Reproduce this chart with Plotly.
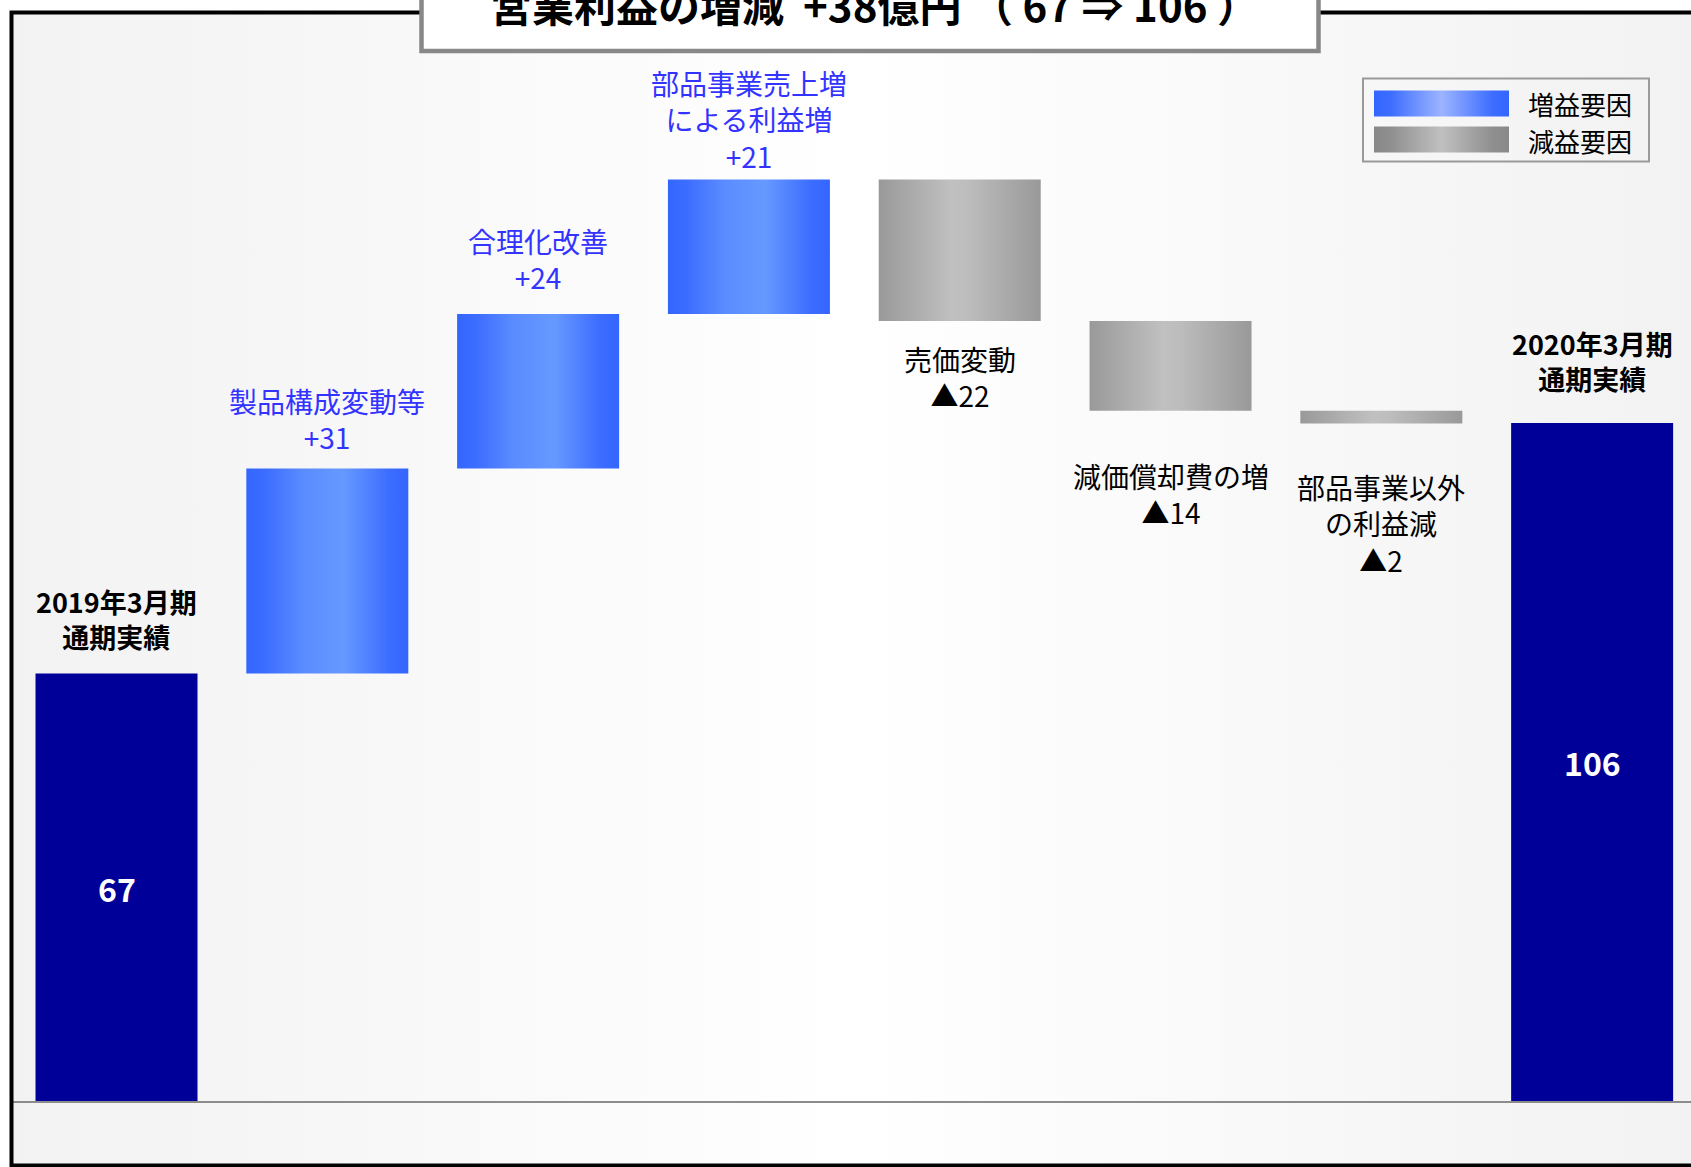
import plotly.graph_objects as go

# ---------------- data ----------------
start_label = ["2019年3月期", "通期実績"]
end_label = ["2020年3月期", "通期実績"]
start_value = 66.9
end_value = 106.0
start_text = "67"
end_text = "106"

step_names = ["製品構成変動等", "合理化改善", "部品事業売上増<br>による利益増",
              "売価変動", "減価償却費の増", "部品事業以外<br>の利益減"]
step_values = [32.0, 24.1, 21.0, -22.1, -14.0, -2.0]
step_texts = ["+31", "+24", "+21", "▲22", "▲14", "▲2"]

title_text = "営業利益の増減  +38億円 （ 67 ⇒ 106 ）"
legend_items = ["増益要因", "減益要因"]

# ---------------- styling ----------------
W, H = 1691, 1167
FONT = "Noto Sans CJK JP"
BAR_W = 0.7685
X0, X1 = -0.5527, 7.469
Y0, Y1 = -10.15, 172.03
BLUE_SCALE = [[0, "#3366ff"], [0.12, "#3d6dff"], [0.35, "#5a8cff"],
              [0.6, "#6699ff"], [0.88, "#3d6dff"], [1, "#3366ff"]]
GRAY_SCALE = [[0, "#999999"], [0.45, "#c0c0c0"], [0.55, "#bdbdbd"], [1, "#999999"]]
LEG_BLUE = [[0, "#3366ff"], [0.12, "#3d6dff"], [0.5, "#9cb4ff"], [0.88, "#3d6dff"], [1, "#3366ff"]]
LEG_GRAY = [[0, "#888888"], [0.12, "#8f8f8f"], [0.5, "#c0c0c0"], [0.88, "#8f8f8f"], [1, "#888888"]]
BG_SCALE = [[0, "#f2f2f2"], [0.5, "#ffffff"], [1, "#f2f2f2"]]
NAVY = "#000099"
LABEL_BLUE = "#3333ff"
# label centre offsets (px) from bar edge
label_shift = [54.6, 49.3, 55.5, 60.2, -55.4, -83.5, -99.7, 61.7]


def px2x(px):
    return X0 + px / W * (X1 - X0)


def py2y(py):
    return Y1 - py / H * (Y1 - Y0)


def rect_trace(xa, xb, ya, yb, scale=None, color=None):
    kw = dict(x=[xa, xb, xb, xa, xa], y=[ya, ya, yb, yb, ya],
              mode="lines", line=dict(width=0), fill="toself",
              hoverinfo="skip", showlegend=False)
    if scale is not None:
        kw["fillgradient"] = dict(type="horizontal", colorscale=scale)
    else:
        kw["fillcolor"] = color
    return go.Scatter(**kw)


fig = go.Figure()

# background gradient inside frame
fig.add_trace(rect_trace(px2x(13), px2x(W), py2y(14), py2y(1165), BG_SCALE))

# total bars
for xi, v in [(0, start_value), (7, end_value)]:
    fig.add_trace(rect_trace(xi - BAR_W / 2, xi + BAR_W / 2, 0, v, color=NAVY))

# floating step bars
level = start_value
edges = []
for i, v in enumerate(step_values):
    lo, hi = sorted([level, level + v])
    xi = i + 1
    fig.add_trace(rect_trace(xi - BAR_W / 2, xi + BAR_W / 2, lo, hi,
                             BLUE_SCALE if v > 0 else GRAY_SCALE))
    edges.append((xi, hi if v > 0 else lo, v > 0))
    level += v

# legend swatches
fig.add_trace(rect_trace(px2x(1374), px2x(1509), py2y(90.5), py2y(116.5), LEG_BLUE))
fig.add_trace(rect_trace(px2x(1374), px2x(1509), py2y(126.5), py2y(152.5), LEG_GRAY))

ann = []
# total labels
ann.append(dict(x=0, y=start_value, text="<br>".join(start_label), showarrow=False,
                yanchor="middle", yshift=label_shift[0],
                font=dict(family=FONT, size=27, color="black", weight="bold")))
ann.append(dict(x=7, y=end_value, text="<br>".join(end_label), showarrow=False,
                yanchor="middle", yshift=label_shift[7],
                font=dict(family=FONT, size=27, color="black", weight="bold")))
ann.append(dict(x=0, y=start_value / 2, text=start_text, showarrow=False,
                font=dict(family=FONT, size=32, color="white", weight="bold")))
ann.append(dict(x=7, y=end_value / 2, text=end_text, showarrow=False,
                font=dict(family=FONT, size=32, color="white", weight="bold")))
for k, (xi, ye, pos) in enumerate(edges):
    ann.append(dict(x=xi, y=ye, text=step_names[k] + "<br>" + step_texts[k],
                    showarrow=False, yanchor="middle", yshift=label_shift[k + 1],
                    font=dict(family=FONT, size=28,
                              color=LABEL_BLUE if pos else "black")))
# legend texts
for j, t in enumerate(legend_items):
    ann.append(dict(xref="paper", yref="paper", x=1526 / W, y=1 - (103.5 + 36.5 * j) / H,
                    text=t, showarrow=False, xanchor="left", yanchor="middle",
                    font=dict(family=FONT, size=26, color="black")))
# title
ann.append(dict(xref="paper", yref="paper", x=874 / W, y=1 - 4 / H, text=title_text,
                showarrow=False, xanchor="center", yanchor="middle",
                font=dict(family=FONT, size=42, color="black", weight="bold")))

shapes = [
    # baseline
    dict(type="line", xref="paper", yref="y", x0=13 / W, x1=1, y0=0, y1=0,
         line=dict(color="#8c8c8c", width=2), layer="above"),
    # outer frame
    dict(type="rect", xref="paper", yref="paper", x0=11.5 / W, x1=1.02,
         y0=1 - 1165.5 / H, y1=1 - 12.5 / H,
         line=dict(color="black", width=4), layer="above"),
    # title box
    dict(type="rect", xref="paper", yref="paper", x0=421.5 / W, x1=1318.5 / W,
         y0=1 - 51 / H, y1=1.05, fillcolor="white",
         line=dict(color="#888888", width=4.5), layer="above"),
    # legend box
    dict(type="rect", xref="paper", yref="paper", x0=1363 / W, x1=1649 / W,
         y0=1 - 161.5 / H, y1=1 - 78.5 / H,
         line=dict(color="#9a9a9a", width=2), layer="above"),
]

fig.update_layout(
    width=W, height=H, margin=dict(l=0, r=0, t=0, b=0, autoexpand=False),
    paper_bgcolor="white", plot_bgcolor="rgba(0,0,0,0)",
    xaxis=dict(range=[X0, X1], visible=False, fixedrange=True),
    yaxis=dict(range=[Y0, Y1], visible=False, fixedrange=True),
    showlegend=False, annotations=ann, shapes=shapes,
    font=dict(family=FONT),
)

fig.write_html("out.html", config={"displayModeBar": False},
               post_script="document.body.style.margin='0';document.body.style.overflow='hidden';")
